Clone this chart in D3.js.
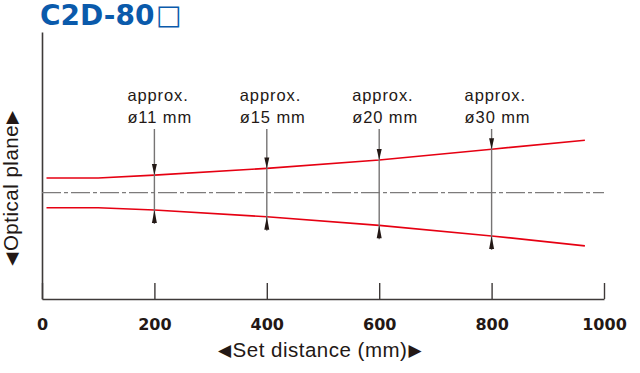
<!DOCTYPE html>
<html>
<head>
<meta charset="utf-8">
<script src="https://cdn.jsdelivr.net/npm/d3@7"></script>
<style>
  html, body { margin: 0; padding: 0; background: #fff; }
  svg { display: block; }
</style>
</head>
<body>
<svg id="chart" width="640" height="373"></svg>
<script>
// ---- data ----
const title = "C2D-80";
const titleBox = "□";
const xTicks = [0, 200, 400, 600, 800, 1000];
const beamDistance = [8, 100, 200, 400, 600, 800, 966];           // mm
const beamUpper = [4.6, 4.6, 5.5, 7.6, 10.2, 13.6, 16.4];          // mm above optical axis
const beamLower = [-4.7, -4.7, -5.4, -7.5, -10.2, -13.5, -16.6];   // mm below optical axis
const spotDistance = [200, 400, 600, 800];
const spotLabels = ["ø11 mm", "ø15 mm", "ø20 mm", "ø30 mm"];
const xTitle = ["◀", "Set distance (mm)", "▶"];
const yTitle = ["◀", "Optical plane", "▶"];

// ---- layout ----
const svg = d3.select("#chart");
const x = d3.scaleLinear().domain([0, 1000]).range([42, 604]);
const y = d3.scaleLinear().domain([-33.2, 50.2]).range([299, 32]);
const textColor = "#231815";
const axisColor = "#3e3a39";

// title
svg.append("text")
  .attr("x", 40).attr("y", 25)
  .attr("fill", "#0a5aab")
  .style("font-family", "'DejaVu Sans', sans-serif")
  .style("font-weight", "bold")
  .style("font-size", "28px")
  .text(title);
svg.append("text")
  .attr("x", 156).attr("y", 24)
  .attr("fill", "#0a5aab")
  .style("font-family", "'DejaVu Sans', sans-serif")
  .style("font-size", "27px")
  .text(titleBox);

// x axis
const xAxis = svg.append("g")
  .attr("transform", `translate(0,${y.range()[0]})`)
  .call(d3.axisBottom(x).tickValues(xTicks).tickFormat(d3.format("d"))
        .tickSizeInner(-16).tickSizeOuter(0).tickPadding(20));
xAxis.select(".domain").attr("stroke", axisColor).attr("stroke-width", 1.6);
xAxis.selectAll(".tick line").attr("stroke", axisColor).attr("stroke-width", 1.4);
xAxis.selectAll(".tick text")
  .attr("fill", textColor)
  .style("font-family", "'DejaVu Sans', sans-serif")
  .style("font-weight", "bold")
  .style("font-size", "16px");

// y axis (line only)
const yAxis = svg.append("g")
  .attr("transform", `translate(${x.range()[0]},0)`)
  .call(d3.axisLeft(y).tickValues([]).tickSizeOuter(0));
yAxis.select(".domain").attr("stroke", axisColor).attr("stroke-width", 1.6);

// optical axis dash-dot line
svg.append("line")
  .attr("x1", x(0)).attr("x2", x(1000))
  .attr("y1", y(0)).attr("y2", y(0))
  .attr("stroke", "#7d7b7b")
  .attr("stroke-width", 1.3)
  .attr("stroke-dasharray", "19,3,4,3");

// beam lines
const upperPts = beamDistance.map((d, i) => [d, beamUpper[i]]);
const lowerPts = beamDistance.map((d, i) => [d, beamLower[i]]);
const line = d3.line().x(d => x(d[0])).y(d => y(d[1]));
[upperPts, lowerPts].forEach(pts => {
  svg.append("path")
    .attr("d", line(pts))
    .attr("fill", "none")
    .attr("stroke", "#e60012")
    .attr("stroke-width", 1.6);
});

// spot annotations
const interp = (arr, d) => d3.scaleLinear().domain(beamDistance).range(arr)(d);
const annTopPx = 129;
spotDistance.forEach((d, i) => {
  const cx = x(d);
  const up = y(interp(beamUpper, d));
  const lo = y(interp(beamLower, d));
  svg.append("line")
    .attr("x1", cx).attr("x2", cx)
    .attr("y1", annTopPx).attr("y2", lo + 14)
    .attr("stroke", "#767474").attr("stroke-width", 1.4);
  svg.append("path")
    .attr("d", `M${cx - 2.5},${up - 11}L${cx + 2.5},${up - 11}L${cx},${up}Z`)
    .attr("fill", textColor);
  svg.append("path")
    .attr("d", `M${cx - 2.5},${lo + 13}L${cx + 2.5},${lo + 13}L${cx},${lo}Z`)
    .attr("fill", textColor);
  const g = svg.append("text")
    .attr("fill", textColor)
    .style("font-family", "'Liberation Sans', Arial, sans-serif")
    .style("font-size", "16.5px")
    .style("letter-spacing", "0.9px");
  g.append("tspan").attr("x", cx - 27).attr("y", 101).text("approx.");
  g.append("tspan").attr("x", cx - 27).attr("y", 123).text(spotLabels[i]);
});

// axis titles
function axisTitle(parts, sel) {
  sel.attr("text-anchor", "middle")
    .attr("fill", textColor)
    .style("font-family", "'Liberation Sans', Arial, sans-serif")
    .style("font-size", "20.5px")
    .style("letter-spacing", "0.5px");
  sel.append("tspan").style("font-family", "'DejaVu Sans', sans-serif")
    .style("font-size", "17px").attr("dy", -1).text(parts[0]);
  sel.append("tspan").attr("dy", 1).attr("dx", 1).text(parts[1]);
  sel.append("tspan").style("font-family", "'DejaVu Sans', sans-serif")
    .style("font-size", "17px").attr("dy", -1).attr("dx", 1).text(parts[2]);
}
axisTitle(xTitle, svg.append("text").attr("x", 320).attr("y", 357));
axisTitle(yTitle, svg.append("text").attr("transform", `translate(17.5,188) rotate(-90)`));
</script>
</body>
</html>
